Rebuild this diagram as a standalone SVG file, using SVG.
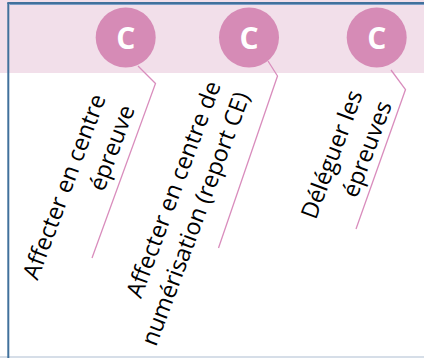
<svg xmlns="http://www.w3.org/2000/svg" width="424" height="358" viewBox="0 0 424 358">
<style>
.lbl{font-family:"Open Sans","Liberation Sans",sans-serif;font-size:23.4px;fill:#000;text-anchor:end}
.cl{font-family:"Open Sans","Liberation Sans",sans-serif;font-size:30px;font-weight:bold;fill:#fff;text-anchor:middle}
.circ{fill:#d68bb6}
.con{fill:none;stroke:#d98dbd;stroke-width:1.3}
</style>
<rect x="0" y="0" width="424" height="358" fill="#fff"/>
<rect x="0" y="0" width="424" height="73" fill="#f2dfea"/>
<g id="frame">
<line x1="0" y1="357" x2="424" y2="357" stroke="#d6dee8" stroke-width="2"/>
<line x1="8.3" y1="3" x2="8.3" y2="358" stroke="#41719c" stroke-width="2"/>
<line x1="7.3" y1="3" x2="424" y2="3" stroke="#41719c" stroke-width="2"/>
<line x1="9.5" y1="4.5" x2="424" y2="4.5" stroke="#7d9dc6" stroke-width="1"/>
</g>
<g id="connectors">
<polyline class="con" points="138,66 155.5,83.5 92,258"/>
<polyline class="con" points="268,61 277.5,76 218.5,248"/>
<polyline class="con" points="391,70 405.5,89.5 356,229"/>
</g>
<g id="node1">
<circle class="circ" cx="125.7" cy="37.5" r="30"/>
<text class="cl" x="125.7" y="48.5">C</text>
</g>
<g id="node2">
<circle class="circ" cx="249" cy="37.5" r="30"/>
<text class="cl" x="249" y="48.5">C</text>
</g>
<g id="node3">
<circle class="circ" cx="376.7" cy="37.5" r="30"/>
<text class="cl" x="376.7" y="48.5">C</text>
</g>
<g id="label1">
<text class="lbl" transform="translate(106,98) rotate(-69.5)"><tspan x="0" y="0">Affecter en centre</tspan><tspan x="0" y="31">épreuve</tspan></text>
</g>
<g id="label2">
<text class="lbl" transform="translate(221,85) rotate(-69.5)"><tspan x="0" y="0">Affecter en centre de</tspan><tspan x="0" y="31">numérisation (report CE)</tspan></text>
</g>
<g id="label3">
<text class="lbl" transform="translate(363,94) rotate(-69.5)"><tspan x="0" y="0">Déléguer les</tspan><tspan x="0" y="31">épreuves</tspan></text>
</g>
</svg>
